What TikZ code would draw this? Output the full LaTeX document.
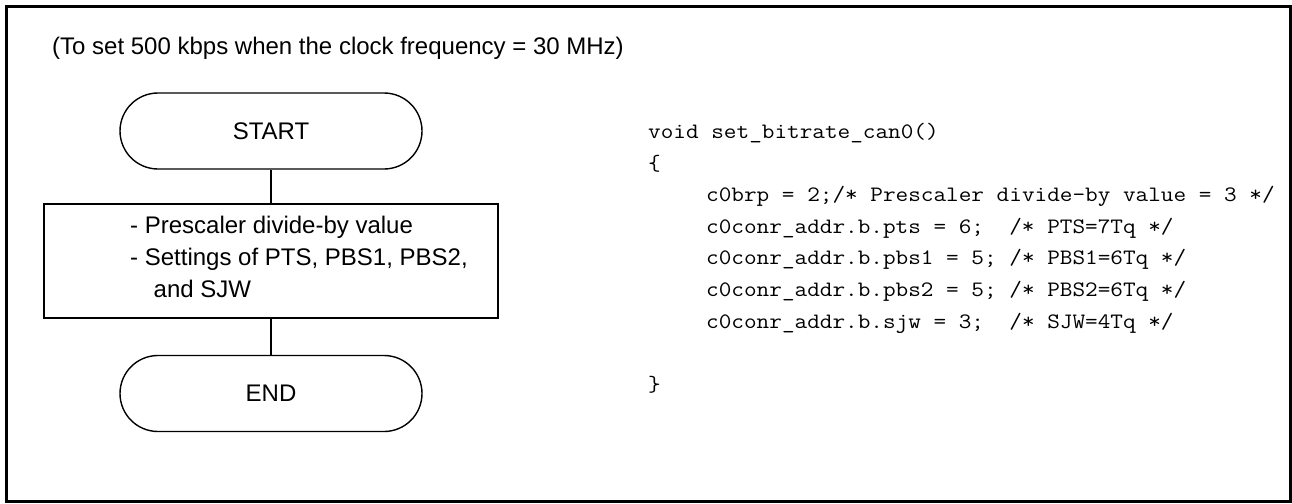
\documentclass[tikz,border=0pt]{standalone}
\usepackage{fontspec}
\setmainfont{Liberation Sans}
\newfontfamily\codefont[FakeStretch=1.115]{Latin Modern Mono}
\begin{document}
\begin{tikzpicture}[x=1pt,y=-1pt,
  terminal/.style={draw, line width=1.4pt, rounded corners=38pt,
    minimum width=302pt, minimum height=76pt, inner sep=0pt,
    font=\fontsize{24}{29}\selectfont},
  process/.style={draw, line width=1.4pt, minimum width=454pt,
    minimum height=114pt, inner sep=0pt},
  label/.style={anchor=base west, inner sep=0pt,
    font=\fontsize{24}{29}\selectfont},
  codeline/.style={anchor=base west, inner sep=0pt,
    font=\codefont\fontsize{22}{26}\selectfont},
  link/.style={line width=1.4pt}]
  \useasboundingbox (0,0) rectangle (1292,503);
  % outer frame
  \draw[line width=3pt] (6,7) rectangle (1290,501);

  % heading
  \node[label] (title) at (52,55) {(To set 500 kbps when the clock frequency = 30 MHz)};

  % flowchart
  \node[terminal] (start) at (271,131) {START};
  \node[process] (proc) at (271,261) {};
  \node[terminal] (end) at (271,393.5) {END};
  \node[label] (p1) at (130,233) {- Prescaler divide-by value};
  \node[label] (p2) at (130,265) {- Settings of PTS, PBS1, PBS2,};
  \node[label] (p3) at (153.5,297) {and SJW};
  \draw[link] (start.south) -- (proc.north);
  \draw[link] (proc.south) -- (end.north);

  % code listing
  \node[codeline] (c1) at (648,138) {void set\_bitrate\_can0()};
  \node[codeline] (c2) at (648,170) {\{};
  \node[codeline] (c3) at (706,201.5) {c0brp = 2;/* Prescaler divide-by value = 3 */};
  \node[codeline] (c4) at (706,233) {c0conr\_addr.b.pts = 6;\ \ /* PTS=7Tq */};
  \node[codeline] (c5) at (706,264.7) {c0conr\_addr.b.pbs1 = 5; /* PBS1=6Tq */};
  \node[codeline] (c6) at (706,296.3) {c0conr\_addr.b.pbs2 = 5; /* PBS2=6Tq */};
  \node[codeline] (c7) at (706,328) {c0conr\_addr.b.sjw = 3;\ \ /* SJW=4Tq */};
  \node[codeline] (c8) at (648,391.5) {\}};
\end{tikzpicture}
\end{document}
